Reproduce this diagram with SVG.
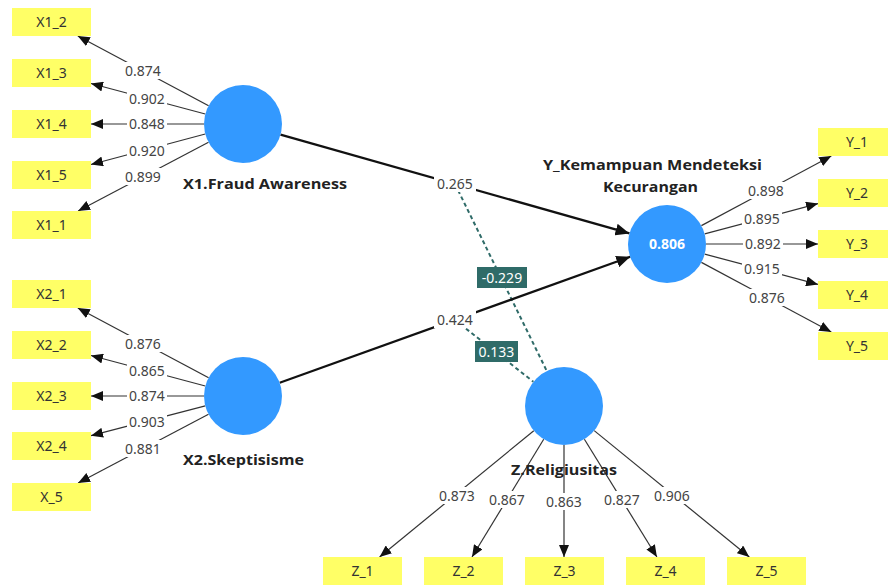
<svg xmlns="http://www.w3.org/2000/svg" width="888" height="587" viewBox="0 0 888 587">
<style>
.ind{fill:#FFFF66}
.it{font-family:"Noto Sans","Open Sans",sans-serif;font-size:14px;fill:#333;text-anchor:middle}
.lv{fill:#3399FF}
.lt{font-family:"Open Sans","Noto Sans",sans-serif;font-size:14px;font-weight:bold;fill:#222}
.ld{stroke:#333;stroke-width:1.2;fill:none}
.st{stroke:#111;stroke-width:2.2;fill:none}
.ds{stroke:#2F6B68;stroke-width:2;stroke-dasharray:4 3;fill:none}
.bg{fill:#fff}
.nt{font-family:"Noto Sans","Open Sans",sans-serif;font-size:14px;fill:#444;text-anchor:middle}
.mb{fill:#2F6B68}
.mt{font-family:"Noto Sans","Open Sans",sans-serif;font-size:14px;fill:#fff;text-anchor:middle}
</style>
<defs>
<marker id="ah" markerUnits="userSpaceOnUse" markerWidth="12" markerHeight="10" refX="12" refY="5" orient="auto">
<path d="M0,0 L12,5 L0,10 Z" fill="#111"/>
</marker>
<marker id="ah2" markerUnits="userSpaceOnUse" markerWidth="14" markerHeight="12" refX="14" refY="6" orient="auto">
<path d="M0,0 L14,6 L0,12 Z" fill="#111"/>
</marker>
</defs>

<g id="connectors">
<line class="ld" x1="208.6" y1="105.7" x2="77.8" y2="36" marker-end="url(#ah)"/>
<line class="ld" x1="205.3" y1="114" x2="91" y2="83.5" marker-end="url(#ah)"/>
<line class="ld" x1="204" y1="124" x2="91" y2="124" marker-end="url(#ah)"/>
<line class="ld" x1="205.3" y1="134" x2="91" y2="164.5" marker-end="url(#ah)"/>
<line class="ld" x1="208.5" y1="142.2" x2="78.1" y2="211" marker-end="url(#ah)"/>
<line class="ld" x1="208.6" y1="377.7" x2="77.8" y2="308" marker-end="url(#ah)"/>
<line class="ld" x1="205.3" y1="386" x2="91" y2="355.5" marker-end="url(#ah)"/>
<line class="ld" x1="204" y1="396" x2="91" y2="396" marker-end="url(#ah)"/>
<line class="ld" x1="205.3" y1="405.9" x2="91" y2="435.7" marker-end="url(#ah)"/>
<line class="ld" x1="208.5" y1="414.2" x2="78.1" y2="483" marker-end="url(#ah)"/>
<line class="ld" x1="701.4" y1="225.6" x2="831.3" y2="156" marker-end="url(#ah)"/>
<line class="ld" x1="704.7" y1="233.9" x2="818" y2="203.6" marker-end="url(#ah)"/>
<line class="ld" x1="706" y1="244" x2="818" y2="244" marker-end="url(#ah)"/>
<line class="ld" x1="704.7" y1="254.1" x2="818" y2="284.4" marker-end="url(#ah)"/>
<line class="ld" x1="701.4" y1="262.4" x2="831.3" y2="332" marker-end="url(#ah)"/>
<line class="ld" x1="533.8" y1="430.7" x2="379.6" y2="557" marker-end="url(#ah)"/>
<line class="ld" x1="543.7" y1="439.3" x2="472" y2="557" marker-end="url(#ah)"/>
<line class="ld" x1="564" y1="445" x2="564" y2="557" marker-end="url(#ah)"/>
<line class="ld" x1="584.4" y1="439.2" x2="656.9" y2="557" marker-end="url(#ah)"/>
<line class="ld" x1="594.2" y1="430.6" x2="749.3" y2="557" marker-end="url(#ah)"/>
<line class="ds" x1="455" y1="184" x2="546.8" y2="371"/>
<line class="ds" x1="455" y1="320" x2="533.4" y2="381.8"/>
<line class="st" x1="280.5" y1="134.6" x2="629.5" y2="233.4" marker-end="url(#ah2)"/>
<line class="st" x1="279.7" y1="382.8" x2="630.3" y2="256.8" marker-end="url(#ah2)"/>

<rect class="bg" x="123" y="62" width="40" height="17"/><text class="nt" x="143" y="76">0.874</text>
<rect class="bg" x="127" y="90" width="40" height="17"/><text class="nt" x="147" y="104">0.902</text>
<rect class="bg" x="127" y="115" width="40" height="17"/><text class="nt" x="147" y="129">0.848</text>
<rect class="bg" x="127" y="142" width="40" height="17"/><text class="nt" x="147" y="156">0.920</text>
<rect class="bg" x="123" y="168" width="40" height="17"/><text class="nt" x="143" y="182">0.899</text>

<rect class="bg" x="123" y="335" width="40" height="17"/><text class="nt" x="143" y="349">0.876</text>
<rect class="bg" x="127" y="362" width="40" height="17"/><text class="nt" x="147" y="376">0.865</text>
<rect class="bg" x="127" y="387" width="40" height="17"/><text class="nt" x="147" y="401">0.874</text>
<rect class="bg" x="127" y="413" width="40" height="17"/><text class="nt" x="147" y="427">0.903</text>
<rect class="bg" x="123" y="440" width="40" height="17"/><text class="nt" x="143" y="454">0.881</text>

<rect class="bg" x="746" y="182" width="40" height="17"/><text class="nt" x="766" y="196">0.898</text>
<rect class="bg" x="742" y="210" width="40" height="17"/><text class="nt" x="762" y="224">0.895</text>
<rect class="bg" x="743" y="235" width="40" height="17"/><text class="nt" x="763" y="249">0.892</text>
<rect class="bg" x="742" y="260" width="40" height="17"/><text class="nt" x="762" y="274">0.915</text>
<rect class="bg" x="747" y="289" width="40" height="17"/><text class="nt" x="767" y="303">0.876</text>

<rect class="bg" x="437" y="487" width="40" height="17"/><text class="nt" x="457" y="501">0.873</text>
<rect class="bg" x="487" y="491" width="40" height="17"/><text class="nt" x="507" y="505">0.867</text>
<rect class="bg" x="544" y="493" width="40" height="17"/><text class="nt" x="564" y="507">0.863</text>
<rect class="bg" x="602" y="491" width="40" height="17"/><text class="nt" x="622" y="505">0.827</text>
<rect class="bg" x="652" y="487" width="40" height="17"/><text class="nt" x="672" y="501">0.906</text>

<rect class="bg" x="434" y="175" width="42" height="17"/><text class="nt" x="455" y="189">0.265</text>
<rect class="bg" x="434" y="311" width="42" height="17"/><text class="nt" x="455" y="325">0.424</text>
<rect class="mb" x="477" y="267" width="50" height="21"/><text class="mt" x="502" y="282.5">-0.229</text>
<rect class="mb" x="475" y="341" width="43" height="21"/><text class="mt" x="496.5" y="356.5">0.133</text>
</g>

<g id="X1">
<circle class="lv" cx="243" cy="124" r="39"/>
<text class="lt" x="183" y="189" textLength="164" lengthAdjust="spacingAndGlyphs">X1.Fraud Awareness</text>
</g>
<g id="X2">
<circle class="lv" cx="243" cy="396" r="39"/>
<text class="lt" x="183" y="465" textLength="121" lengthAdjust="spacingAndGlyphs">X2.Skeptisisme</text>
</g>
<g id="Y">
<circle class="lv" cx="667" cy="244" r="39"/>
<text x="667" y="249" text-anchor="middle" style="font-family:'Open Sans','Noto Sans',sans-serif;font-size:14px;font-weight:bold;fill:#fff">0.806</text>
<text class="lt" x="543" y="170" textLength="219" lengthAdjust="spacingAndGlyphs">Y_Kemampuan Mendeteksi</text>
<text class="lt" x="603" y="192" textLength="95" lengthAdjust="spacingAndGlyphs">Kecurangan</text>
</g>
<g id="Z">
<circle class="lv" cx="564" cy="406" r="39"/>
<text class="lt" x="511" y="475" textLength="106" lengthAdjust="spacingAndGlyphs">Z.Religiusitas</text>
</g>

<g id="X1_2"><rect class="ind" x="12" y="8" width="79" height="28"/><text class="it" x="51.5" y="27">X1_2</text></g>
<g id="X1_3"><rect class="ind" x="12" y="59" width="79" height="28"/><text class="it" x="51.5" y="78">X1_3</text></g>
<g id="X1_4"><rect class="ind" x="12" y="110" width="79" height="28"/><text class="it" x="51.5" y="129">X1_4</text></g>
<g id="X1_5"><rect class="ind" x="12" y="161" width="79" height="28"/><text class="it" x="51.5" y="180">X1_5</text></g>
<g id="X1_1"><rect class="ind" x="12" y="211" width="79" height="28"/><text class="it" x="51.5" y="230">X1_1</text></g>

<g id="X2_1"><rect class="ind" x="12" y="280" width="79" height="28"/><text class="it" x="51.5" y="299">X2_1</text></g>
<g id="X2_2"><rect class="ind" x="12" y="331" width="79" height="28"/><text class="it" x="51.5" y="350">X2_2</text></g>
<g id="X2_3"><rect class="ind" x="12" y="382" width="79" height="28"/><text class="it" x="51.5" y="401">X2_3</text></g>
<g id="X2_4"><rect class="ind" x="12" y="432" width="79" height="28"/><text class="it" x="51.5" y="451">X2_4</text></g>
<g id="X_5"><rect class="ind" x="12" y="483" width="79" height="28"/><text class="it" x="51.5" y="502">X_5</text></g>

<g id="Y_1"><rect class="ind" x="818" y="128" width="79" height="28"/><text class="it" x="857" y="147">Y_1</text></g>
<g id="Y_2"><rect class="ind" x="818" y="179" width="79" height="28"/><text class="it" x="857" y="198">Y_2</text></g>
<g id="Y_3"><rect class="ind" x="818" y="230" width="79" height="28"/><text class="it" x="857" y="249">Y_3</text></g>
<g id="Y_4"><rect class="ind" x="818" y="281" width="79" height="28"/><text class="it" x="857" y="300">Y_4</text></g>
<g id="Y_5"><rect class="ind" x="818" y="332" width="79" height="28"/><text class="it" x="857" y="351">Y_5</text></g>

<g id="Z_1"><rect class="ind" x="323" y="557" width="79" height="28"/><text class="it" x="362.5" y="576">Z_1</text></g>
<g id="Z_2"><rect class="ind" x="424" y="557" width="79" height="28"/><text class="it" x="463.5" y="576">Z_2</text></g>
<g id="Z_3"><rect class="ind" x="525" y="557" width="79" height="28"/><text class="it" x="564.5" y="576">Z_3</text></g>
<g id="Z_4"><rect class="ind" x="626" y="557" width="79" height="28"/><text class="it" x="665.5" y="576">Z_4</text></g>
<g id="Z_5"><rect class="ind" x="727" y="557" width="79" height="28"/><text class="it" x="766.5" y="576">Z_5</text></g>
</svg>
